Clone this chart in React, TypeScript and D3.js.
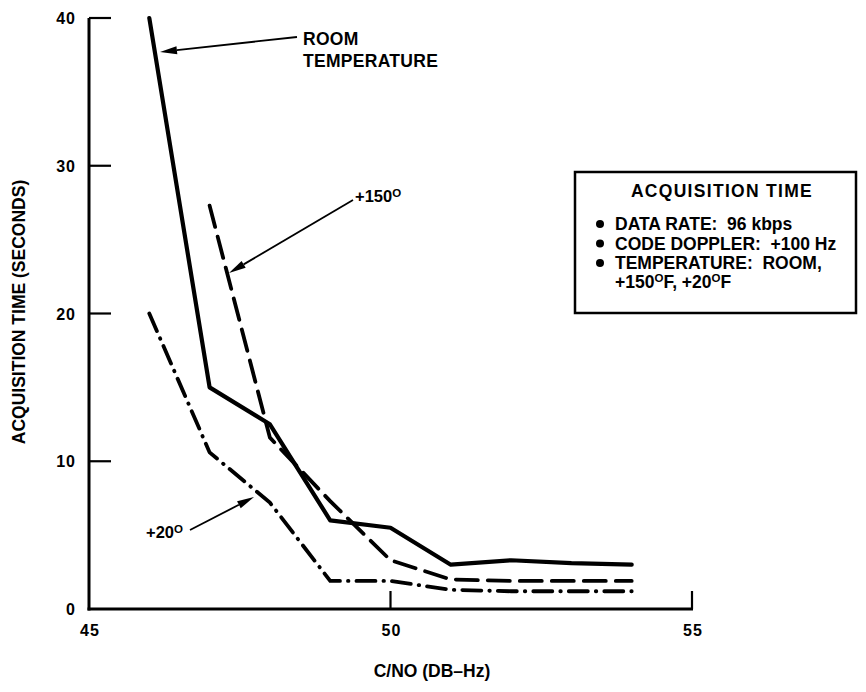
import React from "react";
import * as d3 from "d3";

const cnoRoom = [46, 47, 48, 49, 50, 51, 52, 53, 54];
const timeRoom = [40, 15, 12.5, 6, 5.5, 3, 3.3, 3.1, 3];
const cno150 = [47, 48, 49, 50, 51, 52, 53, 54];
const time150 = [27.3, 11.6, 7.3, 3.3, 2.0, 1.9, 1.9, 1.9];
const cno20 = [46, 47, 48, 49, 50, 51, 52, 53, 54];
const time20 = [20, 10.6, 7.2, 1.9, 1.9, 1.3, 1.2, 1.2, 1.2];

const xTicks = [45, 50, 55];
const yTicks = [0, 10, 20, 30, 40];
const legendTitle = "ACQUISITION TIME";
const legendItems = ["DATA RATE:  96 kbps", "CODE DOPPLER:  +100 Hz", "TEMPERATURE:  ROOM,"];

const W = 866;
const H = 692;
const FONT = "'Liberation Sans', Arial, Helvetica, sans-serif";

export default function App() {
  const x = d3.scaleLinear().domain([45, 55]).range([89, 692]);
  const y = d3.scaleLinear().domain([0, 40]).range([609, 18]);
  const line = d3
    .line<[number, number]>()
    .x((d) => x(d[0]))
    .y((d) => y(d[1]));
  const zip = (a: number[], b: number[]) => a.map((v, i) => [v, b[i]] as [number, number]);

  const arrow = (x1: number, y1: number, x2: number, y2: number, key: string) => {
    const ang = Math.atan2(y2 - y1, x2 - x1);
    const len = 17;
    const wid = 4;
    const bx = x2 - len * Math.cos(ang);
    const by = y2 - len * Math.sin(ang);
    const px = -Math.sin(ang) * wid;
    const py = Math.cos(ang) * wid;
    return (
      <g key={key}>
        <line x1={x1} y1={y1} x2={bx} y2={by} stroke="#000" strokeWidth={1.8} />
        <path d={`M${x2},${y2}L${bx + px},${by + py}L${bx - px},${by - py}Z`} fill="#000" />
      </g>
    );
  };

  return (
    <svg
      width={W}
      height={H}
      style={{ position: "absolute", left: 0, top: 0, background: "#fff" }}
      fontFamily={FONT}
      fontWeight="bold"
    >
      <rect x={0} y={0} width={W} height={H} fill="#fff" />
      {/* axes */}
      <line x1={89} y1={y(40)} x2={89} y2={y(0) + 1.5} stroke="#000" strokeWidth={3} />
      <line x1={87.5} y1={y(0)} x2={x(55) + 1} y2={y(0)} stroke="#000" strokeWidth={3} />
      {yTicks.filter((t) => t > 0).map((t) => (
        <line key={"yt" + t} x1={89} x2={111} y1={y(t)} y2={y(t)} stroke="#000" strokeWidth={2.2} />
      ))}
      {xTicks.filter((t) => t > 45).map((t) => (
        <line key={"xt" + t} x1={x(t)} x2={x(t)} y1={y(0)} y2={y(0) - 18} stroke="#000" strokeWidth={2.2} />
      ))}
      {yTicks.map((t) => (
        <text key={"yl" + t} x={76} y={y(t) + 6} textAnchor="end" fontSize={16} letterSpacing={1}>
          {t}
        </text>
      ))}
      {xTicks.map((t) => (
        <text key={"xl" + t} x={x(t) + 1} y={636} textAnchor="middle" fontSize={16} letterSpacing={1}>
          {t}
        </text>
      ))}
      <text x={432} y={677} textAnchor="middle" fontSize={17.5}>
        C/NO (DB–Hz)
      </text>
      <text
        transform="translate(25,312) rotate(-90)"
        textAnchor="middle"
        fontSize={17.5}
      >
        ACQUISITION TIME (SECONDS)
      </text>

      {/* series */}
      <path d={line(zip(cnoRoom, timeRoom)) || ""} fill="none" stroke="#000" strokeWidth={4.2} strokeLinejoin="round" strokeLinecap="round" />
      <path
        d={line(zip(cno150, time150)) || ""}
        fill="none"
        stroke="#000"
        strokeWidth={3.8}
        strokeDasharray="22 10"
        strokeLinecap="round"
      />
      <path
        d={line(zip(cno20, time20)) || ""}
        fill="none"
        stroke="#000"
        strokeWidth={3.8}
        strokeDasharray="19 8 0.5 8"
        strokeLinecap="round"
      />

      {/* annotations */}
      {arrow(297, 37, 160, 52, "a1")}
      {arrow(353, 200, 229, 273, "a2")}
      {arrow(190, 530, 254, 497, "a3")}
      <text x={303} y={45} fontSize={17.5} letterSpacing={0.3}>ROOM</text>
      <text x={303} y={67} fontSize={17.5} letterSpacing={0.3}>TEMPERATURE</text>
      <text x={355} y={202} fontSize={16.5}>
        +150<tspan fontSize={11.5} dy={-5}>O</tspan>
      </text>
      <text x={146} y={538} fontSize={16.5}>
        +20<tspan fontSize={11.5} dy={-5}>O</tspan>
      </text>

      {/* legend box */}
      <rect x={575} y={172} width={281} height={141} fill="#fff" stroke="#000" strokeWidth={2.5} />
      <text x={722} y={197} textAnchor="middle" fontSize={17.5} letterSpacing={1.3}>
        {legendTitle}
      </text>
      {legendItems.map((s, i) => (
        <g key={"lg" + i}>
          <circle cx={600} cy={224 + i * 19.5} r={4} fill="#000" />
          <text x={615} y={230 + i * 19.5} fontSize={17.5} style={{ whiteSpace: "pre" }}>
            {s}
          </text>
        </g>
      ))}
      <text x={615} y={288} fontSize={17.5}>
        +150<tspan fontSize={11.5} dy={-6}>O</tspan>
        <tspan dy={6}>F, +20</tspan>
        <tspan fontSize={11.5} dy={-6}>O</tspan>
        <tspan dy={6}>F</tspan>
      </text>
    </svg>
  );
}
